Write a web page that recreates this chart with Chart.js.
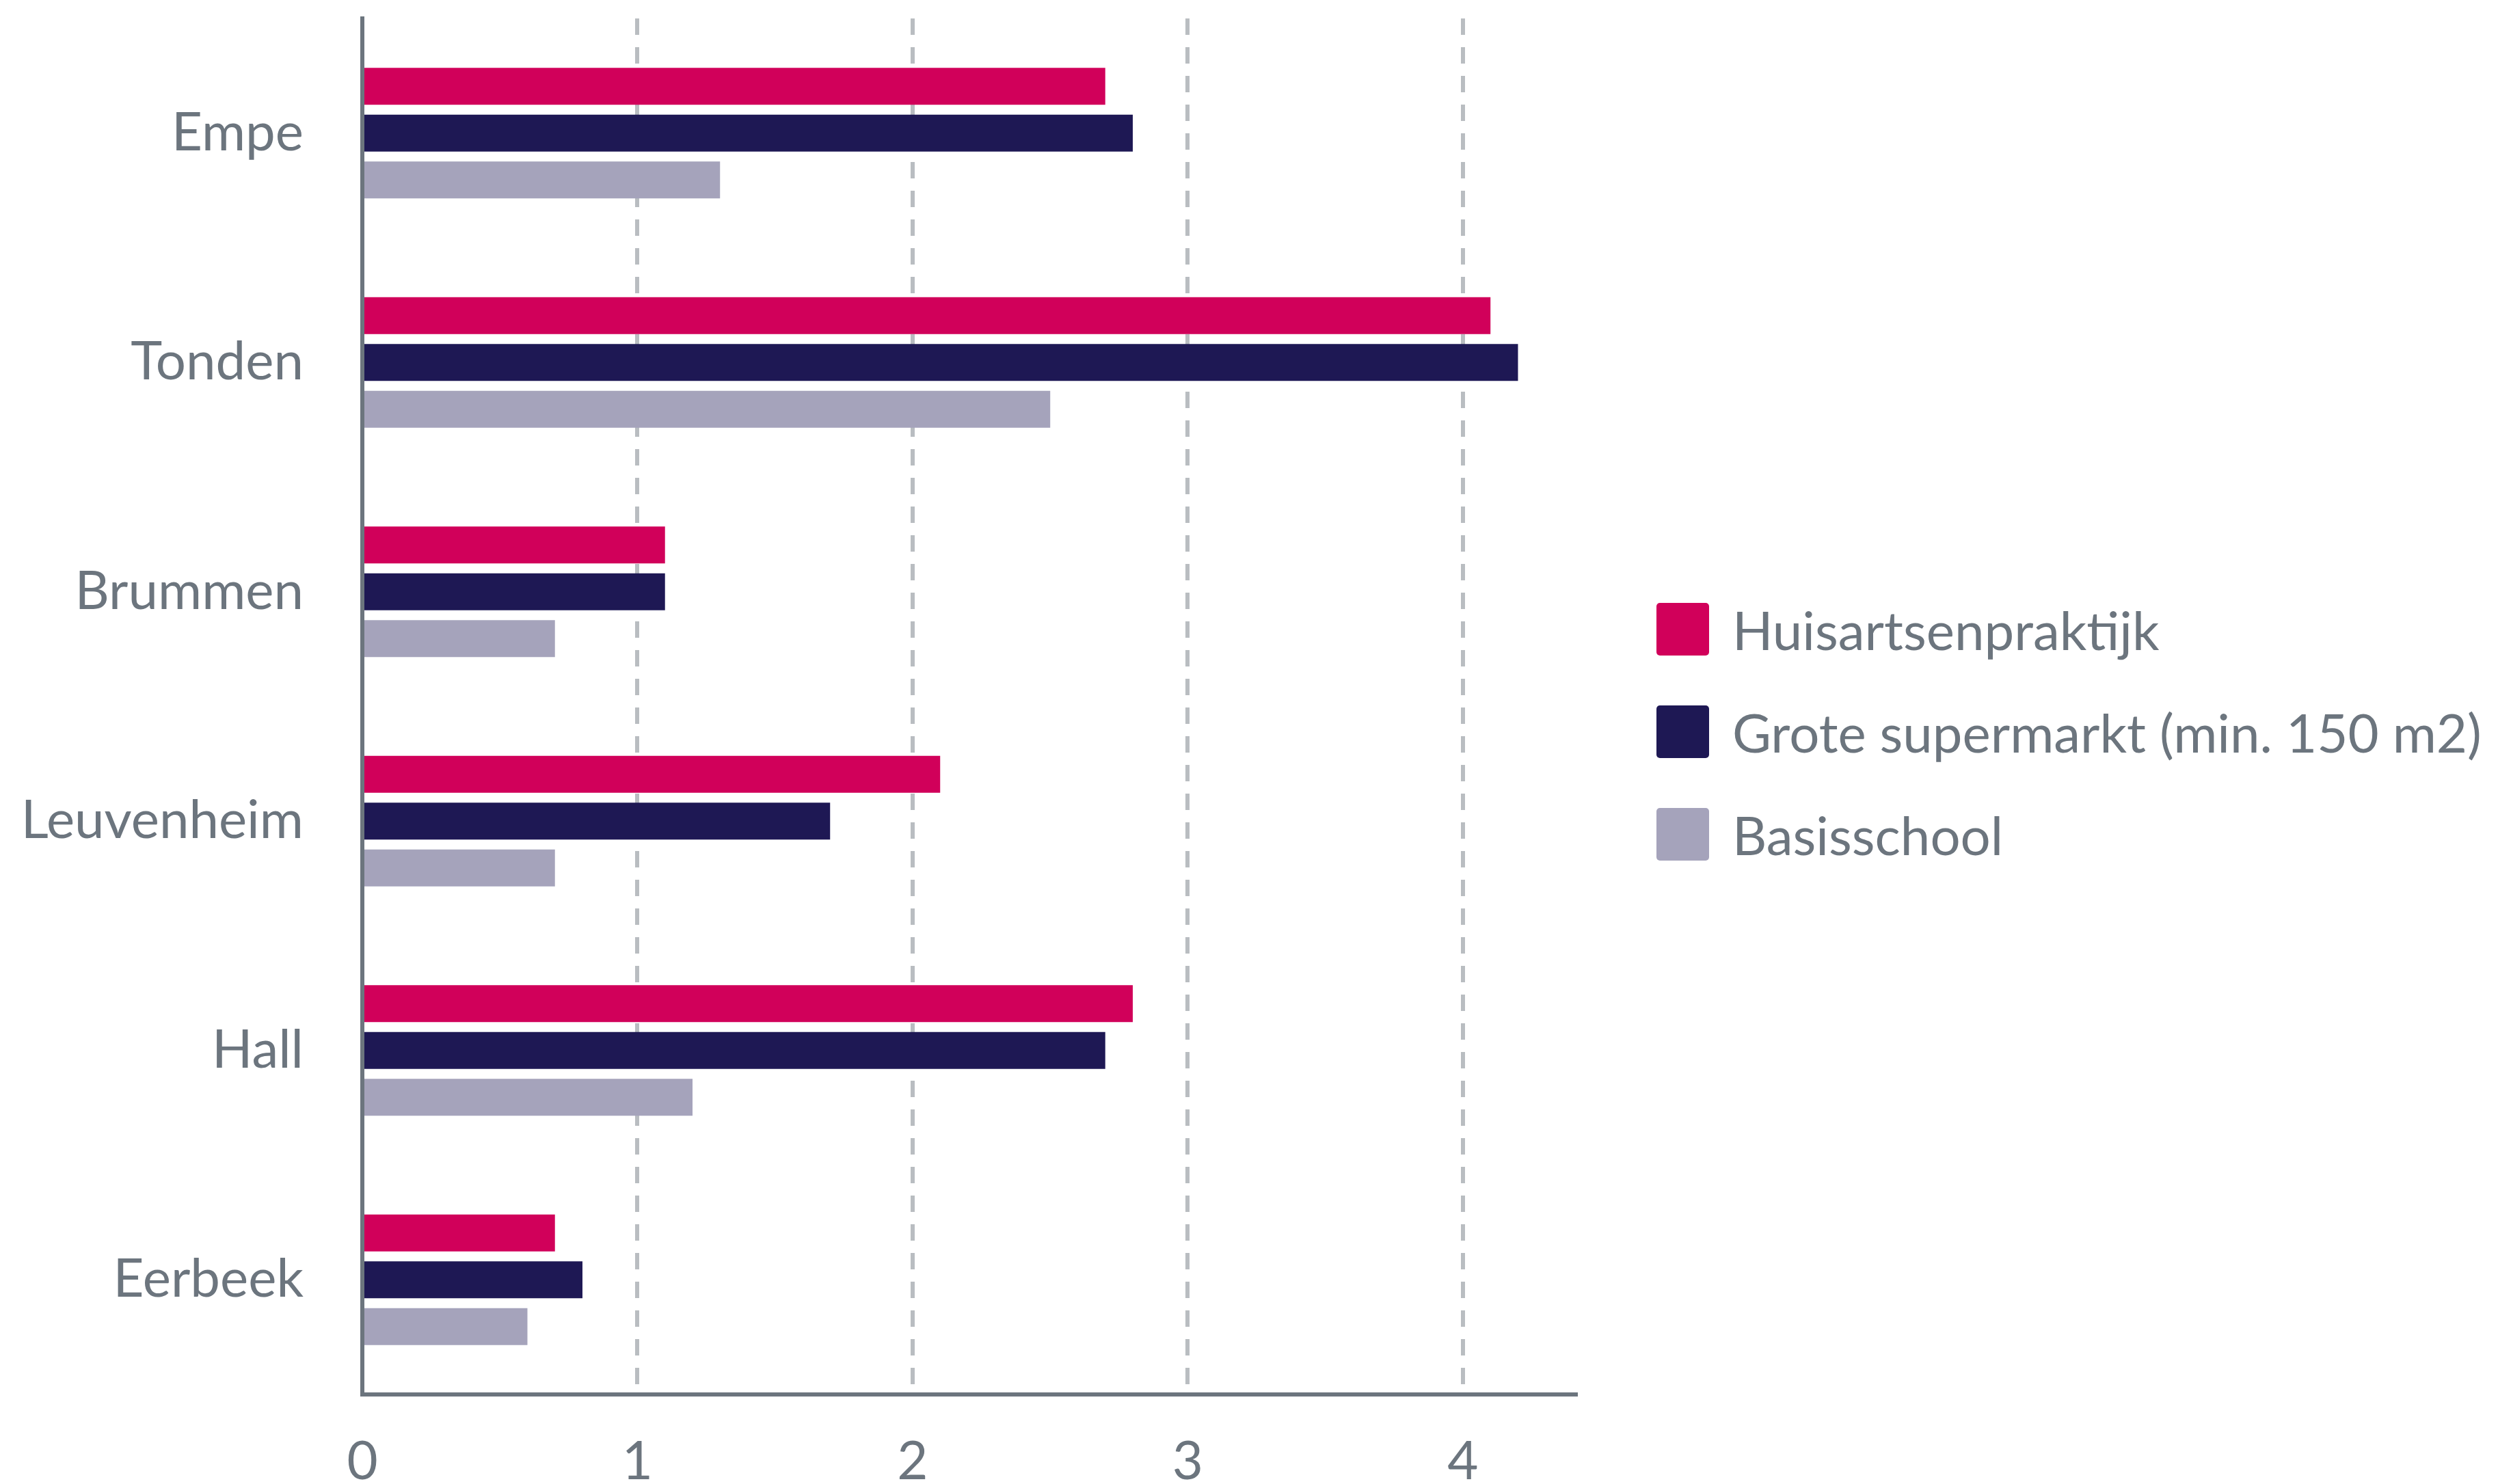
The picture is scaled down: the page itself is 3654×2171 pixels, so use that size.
<!DOCTYPE html>
<html lang="nl">
<head>
<meta charset="utf-8">
<title>Afstand tot voorzieningen</title>
<script src="https://cdn.jsdelivr.net/npm/chart.js@4.4.1/dist/chart.umd.min.js"></script>
<style>
    html, body { margin: 0; padding: 0; background: #ffffff; }
    #wrap { position: relative; width: 3654px; height: 2171px; }
    #legenda {
        position: absolute; left: 2423px; top: 882px;
        font-family: Lato, "Noto Sans", sans-serif; font-size: 78px; color: #6c757e;
    }
    .item { display: flex; align-items: center; height: 77px; margin-bottom: 73px; white-space: nowrap; }
    .blok { width: 77px; height: 77px; border-radius: 5px; margin-right: 34px; flex: none; }
</style>
</head>
<body>
<div id="wrap">
    <canvas id="grafiek"></canvas>
    <div id="legenda"></div>
</div>
<script>
const kernen = ['Empe', 'Tonden', 'Brummen', 'Leuvenheim', 'Hall', 'Eerbeek'];
const huisarts = [2.7, 4.1, 1.1, 2.1, 2.8, 0.7];
const supermarkt = [2.8, 4.2, 1.1, 1.7, 2.7, 0.8];
const basisschool = [1.3, 2.5, 0.7, 0.7, 1.2, 0.6];
const xMax = 4.41;

const tekstKleur = '#6c757e';
const lettertype = 'Lato, "Noto Sans", sans-serif';

// legenda als HTML, opgebouwd uit de datasets van de grafiek
const htmlLegenda = {
    id: 'htmlLegenda',
    afterUpdate(chart) {
        const lijst = document.getElementById('legenda');
        lijst.innerHTML = '';
        chart.data.datasets.forEach(ds => {
            const div = document.createElement('div');
            div.className = 'item';
            const blok = document.createElement('span');
            blok.className = 'blok';
            blok.style.background = ds.backgroundColor;
            const tekst = document.createElement('span');
            tekst.textContent = ds.label;
            div.appendChild(blok);
            div.appendChild(tekst);
            lijst.appendChild(div);
        });
    }
};

new Chart(document.getElementById('grafiek').getContext('2d'), {
    type: 'bar',
    data: {
        labels: kernen,
        datasets: [
            { label: 'Huisartsenpraktijk', data: huisarts, backgroundColor: '#d1005a' },
            { label: 'Grote supermarkt (min. 150 m2)', data: supermarkt, backgroundColor: '#1e1854' },
            { label: 'Basisschool', data: basisschool, backgroundColor: '#a5a3bb' }
        ]
    },
    options: {
        indexAxis: 'y',
        responsive: true,
        maintainAspectRatio: false,
        animation: false,
        categoryPercentage: 0.6125,
        barPercentage: 0.788,
        layout: { padding: { top: 27, right: 1349, bottom: 0, left: 0 } },
        plugins: {
            legend: { display: false },
            tooltip: { enabled: false }
        },
        scales: {
            x: {
                min: 0,
                max: xMax,
                grid: {
                    color: ctx => ctx.tick && ctx.tick.value === 0 ? 'rgba(0,0,0,0)' : '#b9bdc1',
                    lineWidth: 6,
                    drawTicks: false
                },
                border: { display: true, color: '#6c757e', width: 6, dash: [24, 18] },
                ticks: {
                    stepSize: 1,
                    includeBounds: false,
                    padding: 52,
                    color: tekstKleur,
                    font: { family: lettertype, size: 78 }
                },
                afterFit(scale) { scale.height = 131; }
            },
            y: {
                z: 1,
                grid: { display: false, drawTicks: false },
                border: { display: true, color: '#6c757e', width: 6 },
                ticks: {
                    padding: 86,
                    color: tekstKleur,
                    font: { family: lettertype, size: 78 }
                },
                afterFit(scale) {
                    scale.width = 530;
                    scale.paddingTop = 0;
                    scale.paddingBottom = 0;
                }
            }
        }
    },
    plugins: [htmlLegenda]
});
</script>
</body>
</html>
